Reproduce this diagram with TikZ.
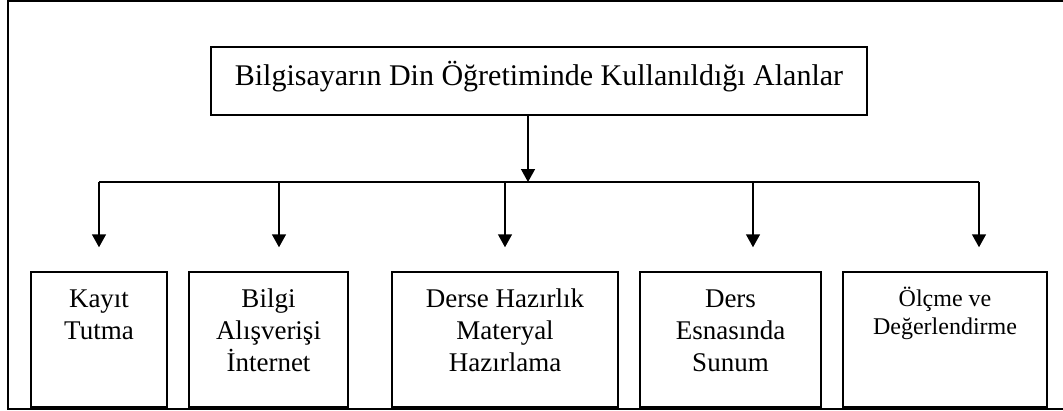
\documentclass[tikz,border=0pt]{standalone}
\usepackage{fontspec}
\setmainfont{Liberation Serif}
\usetikzlibrary{arrows.meta}
\begin{document}
\begin{tikzpicture}[x=1pt,y=-1pt,
  frame/.style={line width=2pt},
  box/.style={draw, line width=1.5pt, inner sep=0pt},
  conn/.style={line width=1.5pt},
  arr/.style={line width=1.5pt, -{Triangle[width=14pt,length=13pt]}},
  lbl/.style={anchor=north, inner sep=0pt, align=center, font=\fontsize{27}{32}\selectfont},
  lblsmall/.style={anchor=north, inner sep=0pt, align=center, font=\fontsize{24}{28.5}\selectfont}]
\useasboundingbox (0,0) rectangle (1063,410);
\draw[frame] (1063,1) -- (7.5,1) -- (7.5,409) -- (1063,409);
% title
\node[box, minimum width=656pt, minimum height=68pt, text height=20pt, text depth=12pt,
      font=\fontsize{30}{36}\selectfont] (title) at (539,81)
      {Bilgisayarın Din Öğretiminde Kullanıldığı Alanlar};
% boxes
\node[box, minimum width=136pt, minimum height=135pt] (b1) at (99,339.5) {};
\node[box, minimum width=159pt, minimum height=135pt] (b2) at (268.5,339.5) {};
\node[box, minimum width=226pt, minimum height=135pt] (b3) at (505,339.5) {};
\node[box, minimum width=181pt, minimum height=135pt] (b4) at (730.5,339.5) {};
\node[box, minimum width=204pt, minimum height=135pt] (b5) at (945,339.5) {};
% labels
\node[lbl] (t1) at ([yshift=-16pt]b1.north) {\rule{0pt}{20pt}Kayıt\\Tutma};
\node[lbl] (t2) at ([yshift=-16pt]b2.north) {\rule{0pt}{20pt}Bilgi\\Alışverişi\\İnternet};
\node[lbl] (t3) at ([yshift=-16pt]b3.north) {\rule{0pt}{20pt}Derse Hazırlık\\Materyal\\Hazırlama};
\node[lbl] (t4) at ([yshift=-16pt]b4.north) {\rule{0pt}{20pt}Ders\\Esnasında\\Sunum};
\node[lblsmall] (t5) at ([yshift=-15pt]b5.north) {\rule{0pt}{20pt}Ölçme ve\\Değerlendirme};
% connectors
\coordinate (hub) at (528,182);
\coordinate (a1) at (99,182);
\coordinate (a2) at (279,182);
\coordinate (a3) at (505,182);
\coordinate (a4) at (753,182);
\coordinate (a5) at (979,182);
\draw[arr] (title.south -| hub) -- (hub);
\draw[conn] (a1) -- (a5);
\draw[arr, shorten >=24pt] (a1) -- (a1 |- b1.north);
\draw[arr, shorten >=24pt] (a2) -- (a2 |- b2.north);
\draw[arr, shorten >=24pt] (a3) -- (a3 |- b3.north);
\draw[arr, shorten >=24pt] (a4) -- (a4 |- b4.north);
\draw[arr, shorten >=24pt] (a5) -- (a5 |- b5.north);
\end{tikzpicture}
\end{document}
